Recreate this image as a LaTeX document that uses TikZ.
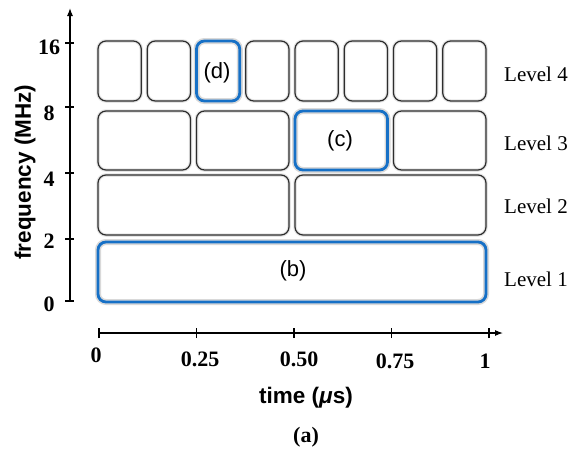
\documentclass[tikz,border=0pt]{standalone}
\usepackage{fontspec}
\setmainfont{Liberation Serif}
\setsansfont{Liberation Sans}
\usetikzlibrary{arrows.meta}

\definecolor{selblue}{RGB}{22,112,198}
\definecolor{boxgray}{RGB}{45,45,45}

\tikzset{
  cell/.style={draw=boxgray, line width=1.2pt, rounded corners=8pt,
    inner sep=0pt, outer sep=0pt,
    preaction={draw=black!10, line width=3.5pt}},
  selcell/.style={draw=selblue, line width=2.8pt, rounded corners=8pt,
    inner sep=0pt, outer sep=0pt,
    preaction={draw=black!15, line width=6pt}},
  axisline/.style={line width=1.1pt, black},
  axistip/.style={-{Latex[length=8pt,width=6pt]}},
  ticklabel/.style={font=\bfseries\fontsize{22}{26}\selectfont, inner sep=0pt},
  levellabel/.style={font=\fontsize{21}{25}\selectfont, anchor=west, inner sep=0pt},
  cellname/.style={font=\sffamily\fontsize{22}{26}\selectfont, inner sep=0pt},
  axistitle/.style={font=\sffamily\bfseries\fontsize{22.5}{27}\selectfont, inner sep=0pt},
}

\begin{document}
\begin{tikzpicture}[x=1pt, y=-1pt]
  \useasboundingbox (0,0) rectangle (571,464);

  % Dyadic tiling: level L has 2^(L-1) cells across the unit interval
  \foreach \lev/\k/\rowtop/\rowbot in {1/1/242/302, 2/2/175/235, 3/4/111/170, 4/8/41/101} {
    \foreach \i in {1,...,\k} {
      \pgfmathsetmacro\cellx{98+(\i-1)*394/\k}
      \pgfmathsetmacro\cellw{394/\k-6}
      \pgfmathsetmacro\cellh{\rowbot-\rowtop}
      \pgfmathtruncatemacro\sel{(\lev==1)||((\lev==3)&&(\i==3))||((\lev==4)&&(\i==3))}
      \ifnum\sel=1 \def\cellsty{selcell}\else\def\cellsty{cell}\fi
      \node[\cellsty, minimum width=\cellw pt, minimum height=\cellh pt, anchor=north west]
        (b\lev-\i) at (\cellx,\rowtop) {};
    }
  }

  % Names of the highlighted cells
  \node[cellname] (nd) at (217,73) {(d)};
  \node[cellname] (nc) at (340,141) {(c)};
  \node[cellname] (nb) at (293,271) {(b)};

  % Level labels
  \node[levellabel] (l4) at (504,74) {Level 4};
  \node[levellabel] (l3) at (504,143) {Level 3};
  \node[levellabel] (l2) at (504,206) {Level 2};
  \node[levellabel] (l1) at (504,279) {Level 1};

  % Frequency axis
  \coordinate (yo) at (70,301);
  \coordinate (ytip) at (70,8);
  \draw[axisline, axistip] (yo) -- (ytip);
  \foreach \v/\yy/\ly in {16/43/47, 8/107/113, 4/173/179, 2/239/241, 0/301/304} {
    \coordinate (yt\v) at (70,\yy);
    \draw[axisline] ([xshift=-5pt]yt\v) -- ([xshift=4pt]yt\v);
    \node[ticklabel] (yl\v) at (49,\ly) {\v};
  }
  \node[axistitle, rotate=90] (ytitle) at (25,172) {frequency (MHz)};

  % Time axis
  \coordinate (xo) at (99,333);
  \coordinate (xtip) at (503,333);
  \draw[axisline, axistip] (xo) -- (xtip);
  \foreach \n/\xx/\lab/\lx/\ly in {a/99/0/96/355, b/196.5/0.25/200/359, c/294/0.50/299/359, d/391.5/0.75/395/361, e/489/1/485/361} {
    \coordinate (xt\n) at (\xx,333);
    \draw[axisline] ([yshift=-5pt]xt\n) -- ([yshift=5pt]xt\n);
    \node[ticklabel] (xl\n) at (\lx,\ly) {\lab};
  }
  \node[axistitle] (xtitle) at (306,398) {time ({\itshape μ}s)};

  % Caption
  \node[ticklabel] (cap) at (306,437) {(a)};
\end{tikzpicture}
\end{document}
